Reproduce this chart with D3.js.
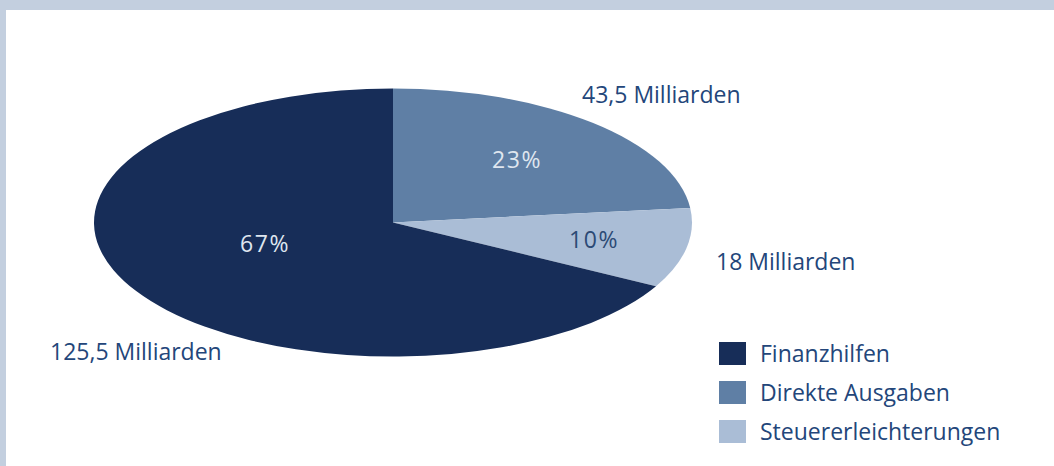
<!DOCTYPE html>
<html>
<head>
<meta charset="utf-8">
<script src="https://cdn.jsdelivr.net/npm/d3@7"></script>
<style>
body { margin: 0; background: #fff; }
svg { display: block; font-family: "Open Sans", "Noto Sans", sans-serif; }
</style>
</head>
<body>
<svg id="chart"></svg>
<script>
const W = 1054, H = 466;

const categories = ['Direkte Ausgaben', 'Steuererleichterungen', 'Finanzhilfen'];
const values = [43.5, 18, 125.5];
const amountLabels = ['43,5 Milliarden', '18 Milliarden', '125,5 Milliarden'];
const percentLabels = ['23%', '10%', '67%'];
const legendOrder = ['Finanzhilfen', 'Direkte Ausgaben', 'Steuererleichterungen'];
const colors = ['#5f7fa5', '#aabdd6', '#172d58'];

const svg = d3.select('#chart').attr('width', W).attr('height', H);

// frame
svg.append('rect').attr('width', W).attr('height', H).attr('fill', '#c3cfdf');
svg.append('rect').attr('x', 6).attr('y', 10).attr('width', W - 6).attr('height', H - 10).attr('fill', '#fff');

const cx = 393, cy = 222.5, rx = 299, ry = 134;

const color = d3.scaleOrdinal().domain(categories).range(colors);

const pie = d3.pie().sort(null).value(d => d.v);
const arcs = pie(categories.map((c, i) => ({c, v: values[i], i})));

const arc = d3.arc().innerRadius(0).outerRadius(rx);

const g = svg.append('g')
	.attr('transform', `translate(${cx},${cy}) scale(1,${ry / rx})`);

g.selectAll('path')
	.data(arcs)
	.enter().append('path')
	.attr('d', arc)
	.attr('fill', d => color(d.data.c));

// percent labels inside slices
const pctPos = [[517, 160], [594, 240], [265, 244]];
svg.selectAll('.pct')
	.data(arcs)
	.enter().append('text')
	.attr('class', 'pct')
	.attr('x', (d, i) => pctPos[i][0])
	.attr('y', (d, i) => pctPos[i][1])
	.attr('dy', '0.35em')
	.attr('text-anchor', 'middle')
	.attr('font-size', 23)
	.attr('letter-spacing', 1.5)
	.attr('fill', (d, i) => i === 1 ? '#2c4a75' : '#dfe6ef')
	.text((d, i) => percentLabels[i]);

// amount labels outside
const amtPos = [[582, 103], [716, 270], [50, 360]];
svg.selectAll('.amt')
	.data(amountLabels)
	.enter().append('text')
	.attr('class', 'amt')
	.attr('x', (d, i) => amtPos[i][0])
	.attr('y', (d, i) => amtPos[i][1])
	.attr('font-size', 23)
	.attr('fill', '#23467a')
	.text(d => d);

// legend
const lg = svg.append('g').attr('transform', 'translate(719,342)');
const item = lg.selectAll('g')
	.data(legendOrder)
	.enter().append('g')
	.attr('transform', (d, i) => `translate(0,${i * 39})`);
item.append('rect')
	.attr('width', 27).attr('height', 23)
	.attr('fill', d => color(d));
item.append('text')
	.attr('x', 41).attr('y', 20)
	.attr('font-size', 23)
	.attr('fill', '#23467a')
	.text(d => d);
</script>
</body>
</html>
